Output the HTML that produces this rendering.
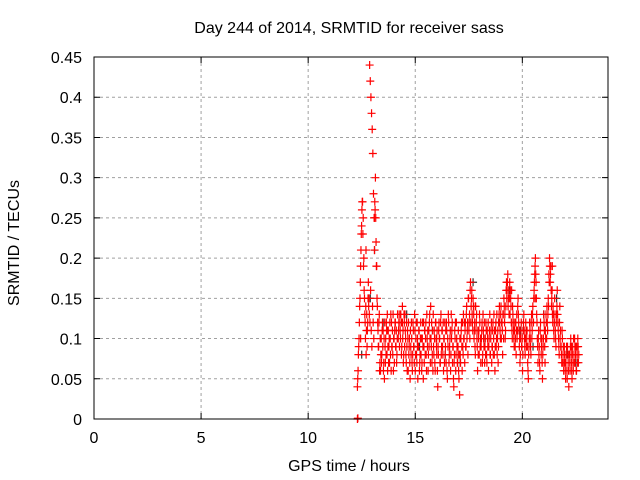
<!DOCTYPE html>
<html><head><meta charset="utf-8"><style>
body{margin:0;background:#fff}
svg{display:block;font-family:"Liberation Sans",sans-serif}
</style></head><body>
<svg id="chart" width="640" height="480" viewBox="0 0 640 480" xmlns="http://www.w3.org/2000/svg">
<rect width="640" height="480" fill="#fff"/>
<g id="grid"></g><g id="marks"></g><g id="axes"></g>
<text x="349" y="33" font-size="16" text-anchor="middle">Day 244 of 2014, SRMTID for receiver sass</text>
<text x="349" y="471" font-size="16" text-anchor="middle">GPS time / hours</text>
<text transform="translate(19,243) rotate(-90)" font-size="16" text-anchor="middle">SRMTID / TECUs</text>
</svg>
<script>
const xTicks=[0,5,10,15,20];
const yTicks=[0,0.05,0.1,0.15,0.2,0.25,0.3,0.35,0.4,0.45];
const yTickLabels=["0","0.05","0.1","0.15","0.2","0.25","0.3","0.35","0.4","0.45"];
const redStart=12.30, redStep=0.03;
const redValues=[
.04,.06,.09,.12,.15,.19,.23,.26,.27,.25,.20,.15,.12,.14,.11,.09,.12,.17,.15,.44,.42,.40,.38,.36,.33,.28,.25,.27,.30,.22,.19,.14,.11,
.09,.13,.07,.06,.10,.08,.12,.11,.07,.05,.09,.10,.12,.08,.06,.11,.09,.07,.10,.13,.12,.09,.08,.06,.10,.11,.12,.09,.07,.10,.13,.11,.12,
.13,.10,.12,.09,.14,.11,.08,.12,.13,.10,.07,.09,.11,.06,.08,.10,.05,.09,.12,.07,.08,.11,.09,.13,.06,.10,.08,.12,.05,.09,.11,.07,.10,
.08,.06,.10,.09,.12,.07,.11,.10,.08,.13,.09,.06,.11,.12,.10,.14,.09,.07,.11,.13,.08,.10,.06,.12,.09,.11,.04,.08,.12,.10,.07,.13,.09,
.11,.08,.06,.10,.12,.09,.07,.11,.05,.09,.12,.08,.10,.06,.13,.11,.07,.09,.04,.08,.10,.06,.12,.09,.07,.11,.05,.03,.08,.10,.12,.06,.09,
.13,.10,.07,.12,.09,.14,.11,.08,.15,.12,.10,.17,.14,.16,.12,.15,.13,.11,.09,.14,.12,.10,.06,.08,.11,.13,.09,.07,.10,.12,.08,.11,.09,
.07,.10,.12,.08,.11,.09,.06,.10,.13,.08,.11,.07,.09,.12,.10,.08,.06,.11,.09,.13,.10,.07,.12,.14,.11,.13,.10,.12,.08,.13,.15,.12,.10,
.14,.17,.16,.18,.15,.13,.17,.16,.14,.12,.10,.13,.11,.09,.12,.10,.08,.13,.11,.15,.12,.09,.07,.10,.12,.09,.06,.11,.13,.10,.08,.12,.09,
.11,.07,.05,.09,.12,.10,.08,.13,.11,.14,.12,.16,.18,.20,.17,.13,.10,.07,.11,.09,.06,.12,.08,.10,.05,.09,.13,.11,.07,.10,.12,.14,.11,
.15,.18,.20,.17,.19,.14,.16,.12,.13,.10,.15,.11,.09,.13,.16,.12,.10,.08,.14,.11,.09,.07,.10,.08,.06,.09,.07,.05,.08,.06,.09,.07,.04,
.08,.06,.10,.07,.05,.09,.06,.08,.10,.07,.09,.06,.08,.10,.07];
const red2Start=12.315, red2Step=0.03;
const red2Values=[
.05,.08,.10,.14,.17,.21,.24,.27,.23,.19,.16,.13,.10,.08,.13,.11,.15,.14,.13,.12,.16,.11,.09,.14,.12,.10,.21,.26,.25,.19,.15,.12,.09,
.12,.06,.10,.08,.07,.11,.09,.06,.10,.12,.07,.08,.11,.13,.09,.07,.10,.12,.08,.06,.09,.11,.13,.10,.07,.12,.09,.11,.08,.13,.10,.12,.09,
.11,.13,.08,.12,.10,.07,.13,.09,.11,.08,.12,.06,.10,.12,.09,.07,.11,.08,.10,.06,.12,.09,.07,.11,.08,.12,.07,.10,.09,.11,.06,.08,.12,
.10,.07,.12,.05,.09,.11,.08,.12,.06,.10,.11,.08,.09,.13,.07,.10,.12,.08,.06,.09,.11,.07,.12,.10,.08,.06,.09,.11,.10,.07,.12,.08,.11,
.09,.12,.10,.07,.08,.11,.12,.06,.10,.13,.07,.09,.11,.08,.10,.12,.09,.05,.07,.11,.12,.08,.10,.07,.09,.06,.08,.10,.07,.11,.09,.12,.08,
.10,.12,.11,.09,.13,.10,.12,.15,.11,.13,.16,.12,.15,.13,.11,.14,.10,.12,.08,.11,.13,.09,.11,.10,.08,.12,.10,.09,.11,.07,.13,.10,.12,
.09,.08,.11,.07,.10,.12,.09,.11,.08,.10,.12,.09,.11,.08,.13,.11,.09,.12,.10,.08,.11,.09,.13,.12,.10,.14,.12,.11,.13,.10,.14,.13,.11,
.16,.15,.17,.14,.16,.15,.13,.15,.12,.11,.14,.12,.10,.11,.09,.12,.11,.10,.14,.13,.11,.10,.08,.11,.09,.10,.08,.12,.11,.09,.10,.11,.10,
.09,.06,.08,.10,.11,.09,.12,.10,.13,.12,.15,.17,.19,.18,.15,.12,.09,.10,.08,.07,.11,.10,.09,.07,.08,.10,.12,.09,.11,.13,.10,.12,.13,
.14,.17,.19,.18,.16,.15,.13,.14,.11,.12,.13,.10,.12,.14,.13,.11,.09,.12,.10,.09,.08,.11,.07,.09,.07,.08,.06,.07,.09,.05,.08,.06,.08,
.07,.09,.08,.06,.08,.07,.10,.07,.09,.08,.06,.09,.07,.09,.08];
const redExtraT=[12.3,12.32,12.45,12.7,13.1,13.7,14.4,15.1,16.0,17.0,17.8,18.6,19.5,20.6,21.4,22.3];
const redExtraV=[0,0.001,0.10,0.21,0.25,0.11,0.12,0.09,0.10,0.08,0.14,0.09,0.16,0.15,0.19,0.09];
const blackT=[12.5,12.9,13.1,13.5,14.0,14.6,15.2,15.8,16.4,17.1,17.7,18.2,18.9,19.4,19.9,20.5,21.0,21.6,22.1,22.5];
const blackV=[0.08,0.15,0.21,0.12,0.10,0.13,0.09,0.11,0.08,0.07,0.17,0.10,0.12,0.16,0.11,0.09,0.13,0.15,0.08,0.07];
const L=94,R=608,T=57,B=419,XMAX=24,YMAX=0.45;
const X=t=>L+(R-L)*t/XMAX, Y=v=>B-(B-T)*v/YMAX;
const NS="http://www.w3.org/2000/svg";
function mk(tag,attrs,parent){const e=document.createElementNS(NS,tag);for(const k in attrs)e.setAttribute(k,attrs[k]);parent.appendChild(e);return e;}
const grid=document.getElementById('grid'),axes=document.getElementById('axes'),marks=document.getElementById('marks');
xTicks.forEach(t=>{
 if(t>0){const g=mk('line',{x1:X(t),x2:X(t),y1:T,y2:B,stroke:'#a0a0a0','stroke-dasharray':'3,3'},grid);
 }
 const tk=mk('path',{d:`M${X(t)},${B}v-6M${X(t)},${T}v6`,stroke:'#000'},axes);
 
 const lb=mk('text',{x:X(t),y:B+24,'font-size':16,'text-anchor':'middle'},axes);lb.textContent=t;
 
});
yTicks.forEach((v,i)=>{
 if(v>0&&v<YMAX){const g=mk('line',{x1:L,x2:R,y1:Y(v),y2:Y(v),stroke:'#a0a0a0','stroke-dasharray':'3,3'},grid);
 }
 const tk=mk('path',{d:`M${L},${Y(v)}h6M${R},${Y(v)}h-6`,stroke:'#000'},axes);
 
 const lb=mk('text',{x:L-12,y:Y(v)+6,'font-size':16,'text-anchor':'end'},axes);lb.textContent=yTickLabels[i];
 
});
const frame=mk('rect',{x:L,y:T,width:R-L,height:B-T,fill:'none',stroke:'#000'},axes);

function plus(t,v,col,name){const p=mk('path',{d:`M${X(t)-4},${Y(v)}h8M${X(t)},${Y(v)-4}v8`,stroke:col,'stroke-width':1.2},marks);
 }
blackT.forEach((t,i)=>plus(t,blackV[i],'#333','black-point'));
redValues.forEach((v,i)=>plus(redStart+i*redStep,v,'#ff0000','red-point'));
red2Values.forEach((v,i)=>plus(red2Start+i*red2Step,v,'#ff0000','red-point'));
redExtraT.forEach((t,i)=>plus(t,redExtraV[i],'#ff0000','red-point'));
</script>
</body></html>
